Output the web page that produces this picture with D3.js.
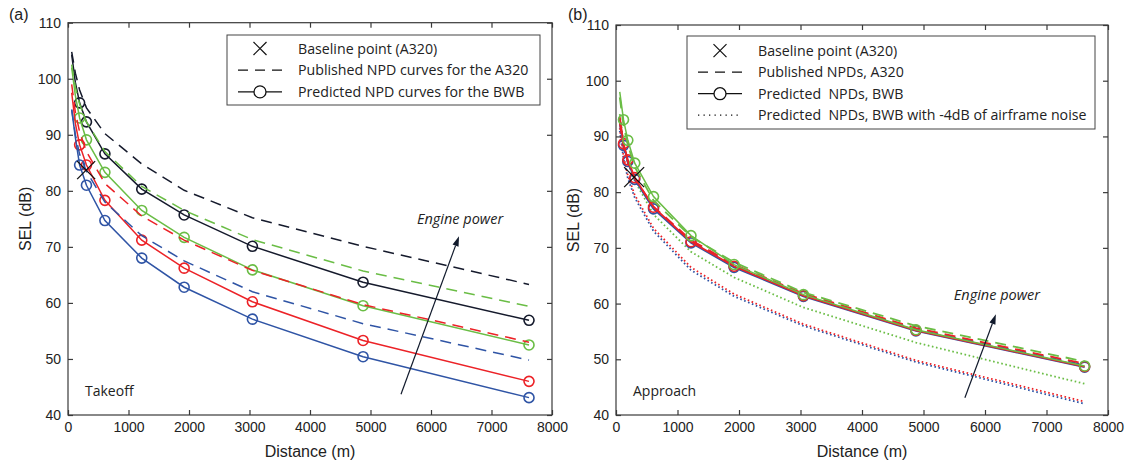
<!DOCTYPE html>
<html><head><meta charset="utf-8">
<script src="https://cdn.jsdelivr.net/npm/d3@7"></script>
<style>
body{margin:0;background:#fff}
svg{display:block}
text{white-space:pre}
</style>
</head><body>
<svg id="c" width="1125" height="461"></svg>
<script>
// ---------- data ----------
const distances = [61, 122, 192, 305, 610, 1219, 1920, 3048, 4877, 7620];
const xTicks = [0, 1000, 2000, 3000, 4000, 5000, 6000, 7000, 8000];
const yTicks = [40, 50, 60, 70, 80, 90, 100, 110];

// Takeoff (a)
const toBlackA320 = [104.8, 101.0, 98.0, 94.8, 90.2, 84.8, 80.1, 75.2, 70.1, 63.3];
const toGreenA320 = [102.5, 98.5, 95.5, 92.3, 87.0, 80.8, 76.5, 71.3, 65.7, 59.4];
const toRedA320   = [99.0, 94.0, 90.5, 87.0, 81.3, 75.5, 71.2, 65.8, 59.7, 53.0];
const toBlueA320  = [94.5, 90.0, 86.5, 83.5, 78.0, 72.0, 67.5, 62.0, 56.3, 49.8];
const toBlackBWB  = [104.3, 99.3, 95.7, 92.3, 86.6, 80.3, 75.7, 70.1, 63.7, 56.9];
const toGreenBWB  = [102.0, 97.0, 93.0, 89.1, 83.3, 76.5, 71.7, 65.9, 59.5, 52.5];
const toRedBWB    = [97.5, 92.0, 88.2, 84.6, 78.3, 71.2, 66.2, 60.2, 53.3, 46.0];
const toBlueBWB   = [94.5, 89.5, 84.6, 81.0, 74.7, 68.0, 62.8, 57.1, 50.4, 43.1];
const toBaseline  = [300, 83.7];

// Approach (b)
const apGreenA320 = [97.0, 92.0, 88.5, 84.5, 78.5, 72.0, 67.4, 62.0, 56.0, 49.6];
const apRedA320   = [92.5, 88.3, 85.5, 82.5, 77.4, 71.4, 67.0, 61.8, 55.6, 49.2];
const apBlueA320  = [92.2, 88.0, 85.2, 82.2, 77.1, 71.2, 66.8, 61.6, 55.4, 49.0];
const apGreenBWB  = [98.0, 93.0, 89.3, 85.2, 79.2, 72.2, 67.0, 61.6, 55.3, 48.8];
const apRedBWB    = [93.5, 88.7, 85.8, 82.6, 77.3, 71.1, 66.7, 61.4, 55.2, 48.7];
const apBlueBWB   = [93.0, 88.4, 85.5, 82.3, 77.0, 70.9, 66.5, 61.3, 55.1, 48.6];
const apGreenBWB4 = [94.0, 89.0, 85.5, 82.0, 76.0, 69.3, 64.7, 59.3, 53.0, 45.6];
const apRedBWB4   = [91.5, 86.5, 83.0, 79.5, 73.5, 66.5, 61.7, 56.3, 49.8, 42.4];
const apBlueBWB4  = [91.0, 86.0, 82.5, 79.0, 73.0, 66.0, 61.3, 56.0, 49.5, 42.0];
const apBaseline  = [295, 82.7];

const takeoffLegend  = ["Baseline point (A320)", "Published NPD curves for the A320", "Predicted NPD curves for the BWB"];
const approachLegend = ["Baseline point (A320)", "Published NPDs, A320", "Predicted  NPDs, BWB", "Predicted  NPDs, BWB with -4dB of airframe noise"];

// ---------- styles ----------
const C = {black: "#151a2c", green: "#6abd45", red: "#ec2227", blue: "#2f54a5"};
const FONT_AX = "'Liberation Sans', Arial, sans-serif";
const FONT_TX = "'Open Sans', 'Noto Sans', sans-serif";

const svg = d3.select("#c");

function panel(o) {
  const x = d3.scaleLinear().domain([0, 8000]).range([o.x0, o.x1]);
  const y = d3.scaleLinear().domain([40, 110]).range([o.yb, o.yt]);
  const g = svg.append("g");

  const line = d3.line().x((d, i) => x(distances[i])).y(d => y(d));

  o.series.forEach(s => {
    const p = g.append("path").datum(s.v).attr("d", line)
      .attr("fill", "none").attr("stroke", s.c).attr("stroke-width", s.w || 1.5);
    if (s.dash) p.attr("stroke-dasharray", s.dash);
    if (s.dot) p.attr("stroke-dasharray", "1.6,2.6").attr("stroke-width", 1.8);
    if (s.m) {
      g.selectAll(null).data(s.v.slice(s.m)).enter().append("circle")
        .attr("cx", (d, i) => x(distances[i + s.m])).attr("cy", d => y(d))
        .attr("r", 5).attr("fill", "none").attr("stroke", s.c).attr("stroke-width", 1.6);
    }
  });

  // baseline X
  const bx = x(o.base[0]), by = y(o.base[1]), h = o.xs;
  g.append("path").attr("d", `M${bx-h},${by-h}L${bx+h},${by+h}M${bx-h},${by+h}L${bx+h},${by-h}`)
    .attr("stroke", "#111").attr("stroke-width", 1.3).attr("fill", "none");

  // axes
  const fmt = d3.format("d");
  const axStyle = sel => {
    sel.selectAll("path,line").attr("stroke", "#3a3a3a").attr("stroke-width", 1.2);
    sel.selectAll("text").attr("font-family", FONT_AX).attr("font-size", 14).attr("fill", "#222");
  };
  g.append("g").attr("transform", `translate(0,${o.yb})`)
    .call(d3.axisBottom(x).tickValues(xTicks).tickFormat(fmt).tickSize(-5).tickSizeOuter(0).tickPadding(7)).call(axStyle)
    .call(a => a.select(".domain").remove());
  g.append("g").attr("transform", `translate(0,${o.yt})`)
    .call(d3.axisTop(x).tickValues(xTicks).tickSize(-5).tickSizeOuter(0).tickFormat("")).call(axStyle)
    .call(a => a.select(".domain").remove());
  g.append("g").attr("transform", `translate(${o.x0},0)`)
    .call(d3.axisLeft(y).tickValues(yTicks).tickFormat(fmt).tickSize(-5).tickSizeOuter(0).tickPadding(7)).call(axStyle)
    .call(a => a.select(".domain").remove());
  g.append("g").attr("transform", `translate(${o.x1},0)`)
    .call(d3.axisRight(y).tickValues(yTicks).tickSize(-5).tickSizeOuter(0).tickFormat("")).call(axStyle)
    .call(a => a.select(".domain").remove());
  g.append("rect").attr("x", o.x0).attr("y", o.yt).attr("width", o.x1 - o.x0).attr("height", o.yb - o.yt)
    .attr("fill", "none").attr("stroke", "#3a3a3a").attr("stroke-width", 1.2);

  // axis labels
  g.append("text").attr("x", (o.x0 + o.x1) / 2).attr("y", 457).attr("text-anchor", "middle")
    .attr("font-family", FONT_AX).attr("font-size", 16).attr("fill", "#222").text("Distance (m)");
  g.append("text").attr("transform", `translate(${o.x0 - 37},${(o.yt + o.yb) / 2}) rotate(-90)`)
    .attr("text-anchor", "middle").attr("font-family", FONT_AX).attr("font-size", 16).attr("fill", "#222").text("SEL (dB)");
  g.append("text").attr("x", o.lx).attr("y", 20).attr("font-family", FONT_AX).attr("font-size", 16)
    .attr("fill", "#222").text(o.tag);

  // phase label
  g.append("text").attr("x", o.x0 + 17).attr("y", o.yb - 19).attr("font-family", FONT_TX).attr("font-size", 14)
    .attr("fill", "#222").text(o.phase);

  // engine power arrow
  const a0 = [x(o.arrow[0]), y(o.arrow[1])], a1 = [x(o.arrow[2]), y(o.arrow[3])];
  const ang = Math.atan2(a1[1] - a0[1], a1[0] - a0[0]);
  const L = 10, W = 3.2;
  const bxh = a1[0] - L * Math.cos(ang), byh = a1[1] - L * Math.sin(ang);
  g.append("line").attr("x1", a0[0]).attr("y1", a0[1]).attr("x2", bxh).attr("y2", byh)
    .attr("stroke", "#111a2c").attr("stroke-width", 1.2);
  g.append("path").attr("d", `M${a1[0]},${a1[1]}L${bxh + W * Math.sin(ang)},${byh - W * Math.cos(ang)}L${bxh - W * Math.sin(ang)},${byh + W * Math.cos(ang)}Z`)
    .attr("fill", "#111a2c");
  g.append("text").attr("x", x(o.etext[0])).attr("y", y(o.etext[1])).attr("text-anchor", "middle")
    .attr("font-family", FONT_TX).attr("font-style", "italic").attr("font-size", 14.5).attr("fill", "#222")
    .text("Engine power");

  // legend
  const lg = o.legend;
  g.append("rect").attr("x", lg.x).attr("y", lg.y).attr("width", lg.w).attr("height", lg.h)
    .attr("fill", "#fff").attr("stroke", "#444").attr("stroke-width", 1);
  lg.items.forEach((t, i) => {
    const yy = lg.y + lg.r0 + i * lg.dy;
    const sx0 = lg.x + 11, sx1 = lg.x + 55, cx = (sx0 + sx1) / 2;
    if (i === 0) {
      const k = 6.5;
      g.append("path").attr("d", `M${cx-k},${yy-k}L${cx+k},${yy+k}M${cx-k},${yy+k}L${cx+k},${yy-k}`)
        .attr("stroke", "#111").attr("stroke-width", 1.2);
    } else if (i === 1) {
      g.append("line").attr("x1", sx0).attr("x2", sx1).attr("y1", yy).attr("y2", yy)
        .attr("stroke", "#111").attr("stroke-width", 1.3).attr("stroke-dasharray", "10,7");
    } else if (i === 2) {
      g.append("line").attr("x1", sx0).attr("x2", sx1).attr("y1", yy).attr("y2", yy)
        .attr("stroke", "#111").attr("stroke-width", 1.3);
      g.append("circle").attr("cx", cx).attr("cy", yy).attr("r", 6)
        .attr("fill", "#fff").attr("stroke", "#111").attr("stroke-width", 1.3);
    } else {
      g.append("line").attr("x1", sx0).attr("x2", sx1).attr("y1", yy).attr("y2", yy)
        .attr("stroke", "#111").attr("stroke-width", 1.3).attr("stroke-dasharray", "1.3,4.2");
    }
    g.append("text").attr("x", lg.x + 71).attr("y", yy + 5).attr("font-family", FONT_TX)
      .attr("font-size", 14.2).attr("fill", "#222").text(t);
  });
}

panel({
  x0: 68, x1: 552, yt: 22.7, yb: 415, tag: "(a)", lx: 9, phase: "Takeoff", xs: 9,
  base: toBaseline,
  series: [
    {v: toBlackA320, c: C.black, dash: "11,7"},
    {v: toBlackBWB, c: C.black, m: 2},
    {v: toGreenA320, c: C.green, dash: "11,7"},
    {v: toGreenBWB, c: C.green, m: 2},
    {v: toRedA320, c: C.red, dash: "11,7"},
    {v: toRedBWB, c: C.red, m: 2},
    {v: toBlueA320, c: C.blue, dash: "11,7"},
    {v: toBlueBWB, c: C.blue, m: 2}
  ],
  arrow: [5504, 43.7, 6463, 71.9],
  etext: [6480, 74.1],
  legend: {x: 227, y: 35, w: 313, h: 70, r0: 13.5, dy: 21.7, items: takeoffLegend}
});

panel({
  x0: 616, x1: 1108, yt: 25, yb: 415, tag: "(b)", lx: 568, phase: "Approach", xs: 10,
  base: apBaseline,
  series: [
    {v: apBlueBWB4, c: C.blue, dot: true},
    {v: apRedBWB4, c: C.red, dot: true},
    {v: apGreenBWB4, c: C.green, dot: true},
    {v: apBlueA320, c: C.blue, dash: "11,7"},
    {v: apBlueBWB, c: C.blue, m: 1, w: 1.8},
    {v: apRedA320, c: C.red, dash: "11,7", w: 1.8},
    {v: apRedBWB, c: C.red, m: 1, w: 1.8},
    {v: apGreenA320, c: C.green, dash: "11,7", w: 1.8},
    {v: apGreenBWB, c: C.green, m: 1, w: 1.5}
  ],
  arrow: [5673, 43.1, 6177, 58.1],
  etext: [6194, 60.7],
  legend: {x: 687, y: 36, w: 408, h: 93, r0: 14.7, dy: 21.5, items: approachLegend}
});
</script>
</body></html>
